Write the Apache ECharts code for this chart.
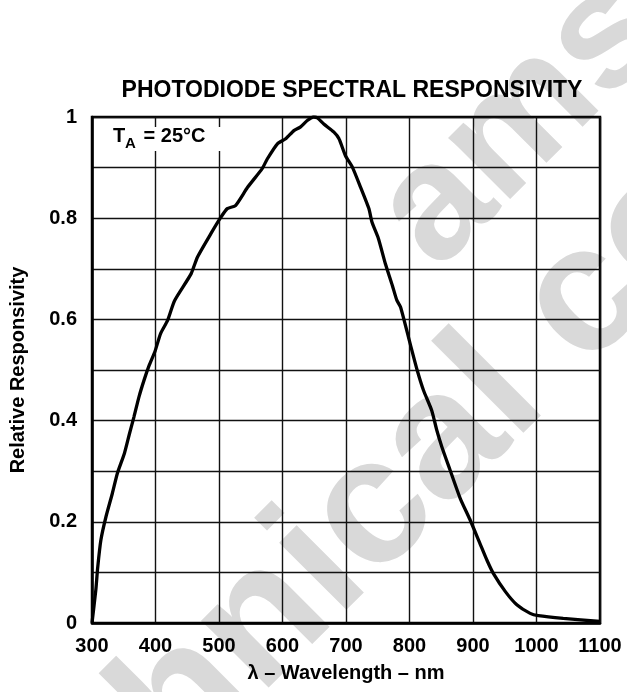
<!DOCTYPE html>
<html>
<head>
<meta charset="utf-8">
<script src="https://cdn.jsdelivr.net/npm/echarts@6/dist/echarts.min.js"></script>
<style>
html,body{margin:0;padding:0;background:#fff;}
#chart{width:627px;height:692px;}
</style>
</head>
<body>
<div id="chart"></div>
<script>
// Data
var wavelength = [300,306,309,314,322,332,340,351,359,366,374,382,390,399,408,419,430,456,466,487,503,513,526,545,568,576,592,605,618,628,639,649,655,665,681,689,699,710,723,736,741,751,762,773,780,786,801,812,822,835,843,851,864,880,895,911,922,932,951,969,990,1003,1042,1100];
var responsivity = [0,0.065,0.11,0.164,0.21,0.256,0.296,0.335,0.374,0.407,0.447,0.48,0.509,0.536,0.572,0.598,0.637,0.69,0.723,0.769,0.802,0.819,0.825,0.861,0.898,0.917,0.947,0.957,0.973,0.98,0.993,1.0,0.998,0.986,0.97,0.957,0.924,0.901,0.861,0.819,0.792,0.76,0.71,0.667,0.638,0.624,0.552,0.5,0.46,0.42,0.381,0.348,0.302,0.246,0.205,0.157,0.124,0.098,0.062,0.036,0.019,0.0145,0.009,0.003];
var xTickLabels = ['300','400','500','600','700','800','900','1000','1100'];
var yTickLabels = ['0','0.2','0.4','0.6','0.8','1'];
var titleText = 'PHOTODIODE SPECTRAL RESPONSIVITY';
var xName = 'λ – Wavelength – nm';
var yName = 'Relative Responsivity';

var FONT = '"Liberation Sans", Arial, Helvetica, sans-serif';
var chart = echarts.init(document.getElementById('chart'), null, {renderer:'canvas'});
var pts = wavelength.map(function(w,i){return [w, responsivity[i]];});

chart.setOption({
  backgroundColor:'#ffffff',
  animation:false,
  title:{
    text:titleText, left:347, textAlign:'center', top:74,
    textStyle:{fontFamily:FONT, fontWeight:'bold', fontSize:23, color:'#000'}
  },
  grid:{left:91, right:27, top:117, bottom:69, show:true, borderColor:'#000', borderWidth:2.5, backgroundColor:'transparent'},
  xAxis:{
    type:'value', min:300, max:1100, interval:100,
    name:xName, nameLocation:'middle', nameGap:40,
    nameTextStyle:{fontFamily:FONT, fontWeight:'bold', fontSize:20, color:'#000'},
    axisLine:{show:true, lineStyle:{color:'#000', width:2.5}},
    axisTick:{show:false},
    axisLabel:{fontFamily:FONT, fontWeight:'bold', fontSize:20, color:'#000', margin:13,
      formatter:function(v){var i=Math.round((v-300)/100); return xTickLabels[i]||'';}},
    splitLine:{show:true, lineStyle:{color:'#111', width:1.4}}
  },
  yAxis:{
    type:'value', min:0, max:1, interval:0.1,
    name:yName, nameLocation:'middle', nameGap:64, nameRotate:90,
    nameTextStyle:{fontFamily:FONT, fontWeight:'bold', fontSize:20, color:'#000'},
    axisLine:{show:true, lineStyle:{color:'#000', width:2.5}},
    axisTick:{show:false},
    axisLabel:{fontFamily:FONT, fontWeight:'bold', fontSize:20, color:'#000', margin:15,
      formatter:function(v){var k=Math.round(v*10); return (k%2===0)? yTickLabels[k/2] : '';}},
    splitLine:{show:true, lineStyle:{color:'#111', width:1.4}}
  },
  graphic:[
    {type:'text', z:-10, x:405, y:240, rotation:Math.PI/4, silent:true,
      style:{text:'ams', fill:'#d9d9d9', font:'bold 165px '+FONT, textAlign:'left', textVerticalAlign:'middle'}},
    {type:'text', z:-10, x:-37, y:923, rotation:Math.PI/4, silent:true,
      style:{text:'technical co', fill:'#d9d9d9', font:'bold 180px '+FONT, textAlign:'left', textVerticalAlign:'middle'}},
    {type:'rect', z:50, shape:{x:101, y:127, width:122, height:24}, style:{fill:'#fff'}},
    {type:'text', z:51, x:113, y:146, style:{text:'T', fill:'#000', font:'bold 20px '+FONT, textAlign:'left', textVerticalAlign:'bottom'}},
    {type:'text', z:51, x:125, y:151, style:{text:'A', fill:'#000', font:'bold 15px '+FONT, textAlign:'left', textVerticalAlign:'bottom'}},
    {type:'text', z:51, x:138, y:146, style:{text:' = 25°C', fill:'#000', font:'bold 20px '+FONT, textAlign:'left', textVerticalAlign:'bottom'}}
  ],
  series:[{
    type:'line', data:pts, showSymbol:false, smooth:0.2,
    lineStyle:{color:'#000', width:3.3}, z:5
  }]
});
</script>
</body>
</html>
